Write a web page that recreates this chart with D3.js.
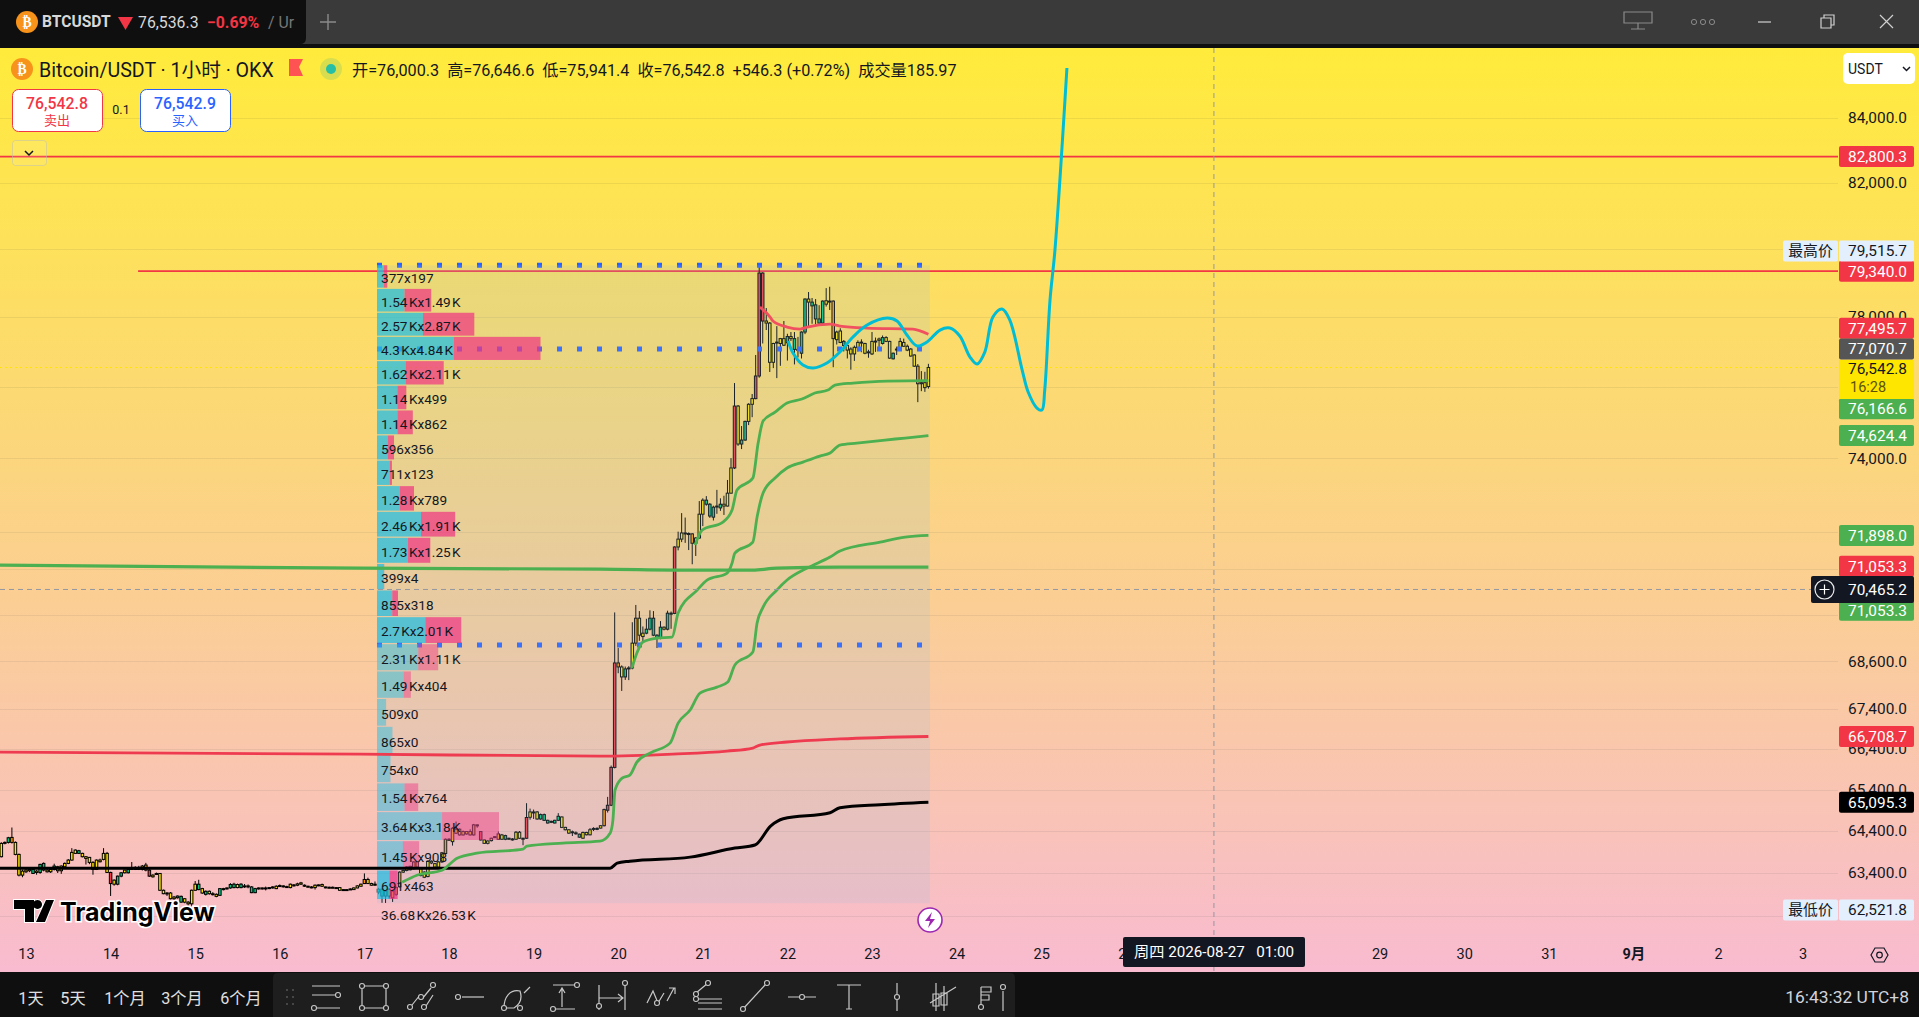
<!DOCTYPE html>
<html>
<head>
<meta charset="utf-8">
<script src="https://cdn.jsdelivr.net/npm/d3@7"></script>
<style>
  html, body { margin: 0; padding: 0; background: #0f0f0f; overflow: hidden; }
  text { font-family: Roboto, "Noto Sans CJK SC", sans-serif; }
</style>
</head>
<body>
<div id="chart"></div>
<script>
//BTCUSDT 1h chart, d3 v7

//candles, one per hour, first one is 2026-08-12 17:00. Bars are recoloured by an indicator
//so open and close can't be told apart, only the body edges are kept
var firstCandleHour = -7;
var bodyTop = [
  64103,64127,64238,64246,64127,63841,63445,63469,63484,63484,
  63445,63603,63627,63469,63484,63564,63548,63564,63627,63706,
  63889,63944,63929,63865,63786,63770,63651,63706,63706,63865,
  63865,63413,63231,63326,63405,63469,63484,63508,63532,63532,
  63564,63588,63469,63350,63389,63389,62993,62929,62929,62834,
  62858,62850,62795,62715,62993,63136,63136,63032,62969,62969,
  62913,62898,63032,63032,63048,63128,63136,63128,63136,63096,
  63096,63072,63032,63048,63048,63048,63056,63072,63088,63104,
  63096,63080,63136,63120,63144,63167,63112,63088,63072,63112,
  63120,63128,63072,63064,63064,63056,63056,63009,63009,63024,
  63048,63096,63136,63247,63247,63151,63136,63018,63018,62970,
  63018,62970,63058,63421,63461,63541,63558,63662,63662,63501,
  63421,63678,63678,63622,63662,63880,64202,64202,64467,64443,
  64443,64387,64387,64387,64548,64548,64387,64186,64161,64226,
  64266,64330,64306,64290,64226,64210,64371,64371,64226,64725,
  64859,64859,64859,64795,64795,64657,64632,64657,64754,64738,
  64487,64430,64381,64357,64325,64365,64365,64430,64462,64462,
  64527,64916,65021,65945,68562,68562,68460,68410,68435,69070,
  69715,69715,69327,69430,69715,69715,69275,69482,69482,69845,
  69845,71590,71800,71965,71965,71950,71940,71830,72470,72850,
  72850,72740,72660,72690,72740,72740,73040,73730,75450,75450,
  74500,75020,75500,75660,76300,79284,79284,77879,77820,77230,
  77270,77370,77370,77430,77430,77370,77060,77560,78520,78520,
  78430,78350,77940,78460,78470,78460,78460,77560,77590,77290,
  77170,77070,77120,77260,77270,77230,76990,77290,77300,77360,
  77400,77400,77290,76950,77070,77290,77260,77150,77070,76900,
  76580,76110,76110,76542.8
];
var bodyBottom = [
  63786,64103,64127,64127,63841,63350,63350,63429,63453,63389,
  63413,63413,63469,63429,63429,63484,63453,63453,63548,63627,
  63706,63865,63865,63786,63746,63651,63484,63484,63667,63722,
  63413,63151,63136,63136,63326,63405,63405,63484,63484,63484,
  63484,63469,63326,63310,63373,62993,62913,62913,62795,62795,
  62818,62715,62715,62676,62676,62993,63009,62929,62898,62913,
  62898,62850,62874,63009,63032,63048,63056,63056,63056,63072,
  63072,62937,62937,63024,63024,63032,63040,63048,63032,63088,
  63080,63064,63056,63104,63112,63136,63088,63072,63056,63056,
  63104,63088,63056,63056,63056,63048,62993,63001,63001,63016,
  63009,63048,63088,63151,63151,63112,63120,62950,62857,62857,
  62857,62817,62897,63075,63421,63461,63477,63501,63541,63340,
  63300,63316,63638,63541,63541,63662,63863,64186,64145,64346,
  64306,64306,64330,64306,64306,64524,64186,64105,64105,64169,
  64242,64202,64202,64202,64202,64186,64202,64226,64210,64226,
  64730,64835,64689,64689,64657,64592,64608,64592,64657,64487,
  64430,64349,64365,64341,64252,64228,64309,64309,64446,64446,
  64470,64527,64900,65022,65945,68460,68206,68206,68410,68435,
  69070,69275,69240,69327,69430,69275,69198,69198,69430,69430,
  69819,69840,71590,71800,71940,71930,71690,71690,71830,72470,
  72740,72420,72390,72670,72640,72690,72690,73040,73730,74390,
  74390,74500,75020,75500,75660,76300,77879,77820,76690,76690,
  77250,77230,77180,77250,77370,77060,77045,76950,77560,78430,
  78320,77940,77820,77820,78370,78440,77370,77340,77260,77170,
  77040,76930,76930,77110,77250,76950,76970,76930,77280,77320,
  77230,77290,76810,76790,77050,77070,77150,77040,76870,76580,
  76080,76080,75970,76000.3
];
var highs = [
  64130,64150,64260,64484,64150,63860,63480,63500,63530,63530,
  63470,63620,63650,63500,63520,63620,63570,63580,63650,63730,
  63990,63960,63950,63880,63800,63780,63680,63720,63740,63990,
  63900,63430,63250,63340,63420,63480,63500,63660,63560,63570,
  63590,63640,63490,63370,63410,63400,63010,62950,62950,62860,
  62870,62870,62810,62740,63010,63210,63240,63050,62990,62990,
  62950,62920,63040,63050,63060,63160,63170,63150,63160,63140,
  63130,63090,63050,63060,63060,63080,63070,63090,63110,63130,
  63110,63100,63150,63140,63170,63190,63130,63100,63090,63130,
  63130,63150,63080,63080,63080,63070,63070,63020,63020,63040,
  63060,63110,63150,63390,63290,63170,63200,63050,63040,62990,
  63040,62990,63080,63440,63480,63560,63570,63680,63680,63520,
  63440,63700,63700,63640,63680,63900,64220,64230,64490,64628,
  64460,64410,64400,64440,64570,64560,64400,64200,64175,64240,
  64280,64390,64330,64310,64240,64230,64400,64400,64240,65071,
  64940,64916,64880,64820,64820,64670,64650,64670,64830,64750,
  64500,64445,64410,64390,64335,64385,64380,64470,64490,64490,
  64540,64940,65224,65990,69865,68944,68500,68470,68480,69610,
  70060,69900,69500,69700,69920,69900,69300,69640,69500,69910,
  69890,71610,72000,72500,72380,71980,71960,71850,72825,72900,
  72960,72770,72700,73130,72900,72970,73400,74000,76100,75480,
  74890,75040,75530,75790,76900,79515,79310,78257,77850,77250,
  77730,77390,77880,77510,77560,77560,77420,77580,78540,78725,
  78550,78520,78340,78480,78840,78880,78480,77600,77670,77330,
  77180,77120,77170,77320,77350,77250,77050,77560,77400,77400,
  77460,77440,77310,76970,77140,77390,77370,77200,77100,76920,
  76640,76440,76420,76646.6
];
var lows = [
  63770,64080,64100,64100,63820,63320,63300,63400,63420,63380,
  63360,63380,63440,63410,63400,63460,63400,63380,63520,63610,
  63690,63850,63850,63770,63600,63610,63360,63470,63650,63700,
  63400,62860,63100,63110,63300,63390,63390,63470,63470,63470,
  63460,63440,63310,63290,63360,62980,62900,62860,62780,62770,
  62800,62700,62690,62640,62620,62980,62995,62910,62870,62890,
  62870,62830,62860,62990,63010,63030,63040,63040,63040,63050,
  63040,62925,62925,63010,63010,62990,63020,63030,63020,63070,
  63060,63050,63040,63080,63090,63120,63070,63060,63040,63010,
  63090,63070,63040,63040,63040,63030,62980,62990,62990,63000,
  63000,63040,63080,63140,63140,63100,63100,62900,62700,62696,
  62800,62720,62860,63060,63400,63440,63460,63480,63520,63320,
  63280,63300,63610,63520,63510,63640,63850,64170,64050,64330,
  64290,64290,64310,64290,64290,64480,64170,64090,64080,64150,
  64230,64190,64190,64180,64190,64170,64190,64210,64060,64210,
  64673,64690,64670,64670,64640,64580,64590,64580,64640,64470,
  64415,64330,64280,64310,64240,64210,64295,64295,64400,64420,
  64460,64510,64845,65000,65920,68300,67850,68130,68125,68400,
  69000,69130,69100,69300,69400,69250,68944,69170,69400,69400,
  69440,69820,71500,71720,71700,71508,71130,71350,71820,72150,
  72700,72370,72300,72480,72560,72450,72680,73030,73700,74340,
  74250,74480,74917,75138,75640,76250,77230,77618,76414,76525,
  76240,76590,77160,76740,77300,76630,76830,76800,77500,77730,
  77800,77780,77800,77800,78300,78200,76550,77200,77240,77000,
  76800,76480,76730,77000,76980,76920,76820,76900,76990,77030,
  77200,77270,76790,76770,76900,77050,77130,77010,76850,76560,
  75560,75870,75850,75941.4
];
var tones = ("yygoyyyyyg"+"yggyygyyyy"+"yygyyyyyyy"+"yryggygyyg"+"yoryyyyyyy"+"ggyyyygygy"
  +"yygyyggygy"+"yggyyygyyy"+"yyyyyyyyyy"+"yyyyyyyyyy"+"yyyoyyyggg"+"yyooyyyooy"
  +"yyyyyyoyyy"+"yyyyoyryyy"+"yyygyyyyyr"+"yyygggyggy"+"yyyygyyyyy"+"yorrroygyy"
  +"oyygggggyg"+"yryyyyoyyy"+"gggygyyyry"+"ggyyrrryyy"+"yyygygyggy"+"ggggygoyyg"
  +"yyyyyyyyyy"+"gyygyyyyyy"+"oyyy").split("");

//volume profile rows, top row first
var vpBuy = [377,1540,2570,4300,1620,1140,1140,596,711,1280,2460,1730,399,855,2700,2310,1490,509,865,754,1540,3640,1450,691];
var vpSell = [197,1490,2870,4840,2110,499,862,356,123,789,1910,1250,4,318,2010,1110,404,0,0,0,764,3180,908,463];
var vpHigh = 79515.7, vpLow = 62760, vpPoc = 77070.7, vpVal = 69020, vpStartHour = 100, vpLastHour = 256;
var vpTotal = "36.68\u200AKx26.53\u200AK";

//overlay lines: hours since 2026-08-13 00:00 and price
var blackHours = [-8,165.7,167.7,171.3,188.4,201.1,206.8,211.3,214.8,228.1,230.9,242.3,256];
var blackPrices = [63515,63515,63633,63680,63776,63992,64065,64525,64695,64840,64960,65035,65095.3];
var redLowHours = [-8,94.8,162.8,183.5,198.9,206.2,208.2,215.9,230.9,256];
var redLowPrices = [66321,66272,66222,66272,66347,66422,66497,66572,66647,66708.7];
var greenFlatHours = [-8,94.8,162.8,191.2,206.2,213,230.9,256];
var greenFlatPrices = [71106,71027,71000,70974,70974,71027,71053,71053.3];
var redTopHours = [208.2,211.1,211.9,215.9,219.6,221.6,228.1,230.9,238.6,251.6,256];
var redTopPrices = [78286,77995,77879,77705,77647,77705,77792,77734,77676,77647,77495.7];
var greenAHours = [106.7,110.9,118,122.3,127.9,141,142.1,152.3,162.8,165.7,166.5,167.1,169.1,171.3,173.3,177,182.7,185,188.4,191.2,196,199.1,201.1,206.2,207.4,209.1,213,215.9,221.6,228.1,230.9,242.3,249.4,256];
var greenAPrices = [63183,63348,63466,63751,63870,63966,64037,64110,64157,64349,64663,65389,65683,65757,66075,66297,66544,67041,67369,67797,67948,68076,68509,68841,69589,70002,70449,70713,71030,71322,71481,71721,71854,71898];
var greenBHours = [171.9,173.3,175,179,183.3,185,190.4,193.2,198.9,200.3,201.1,206.2,207.4,209.1,212.5,215.9,220.4,225.2,228.1,230.9,235.7,243.7,249.4,256];
var greenBPrices = [68431,68815,69098,69200,69226,69848,70449,70713,70898,71162,71428,71721,72393,73043,73452,73727,73891,74057,74140,74362,74417,74501,74556,74624.4];
var greenCHours = [189.8,191.8,197.7,200.3,201.7,206.2,207.7,209.1,212.5,215.9,220.1,223.8,227.5,229.5,234.6,244.3,256];
var greenCPrices = [71641,72043,72258,72581,73125,73452,74417,75030,75282,75536,75648,75817,75902,76043,76100,76157,76166.6];
var cyanHours = [216.2,217.6,220.4,223.3,227.2,230.9,234.6,238.6,244.3,247.1,249.9,252.8,255.6,259.3,262.1,264.9,267.8,269.8,272,274.3,276.9,279.1,282.6,284.3,286.8,288.2,289,290.5,291.9,295.3];
var cyanPrices = [77300,76955,76612,76526,76669,76984,77416,77763,77966,77879,77474,77157,77272,77618,77676,77445,76841,76642,76984,77995,78228,77907,76470,75845,75394,75339,75902,78491,79967,85580];

//axes, the ticks in hiddenTicks sit under a tag in the picture so only their grid line shows
var priceTicks = [84000,82000,80000,78000,76000,74000,72000,71000,69800,68600,67400,66400,65400,64400,63400,62400];
var hiddenTicks = [80000,76000,72000,71000,69800,62400];
var dayTicks = [13,14,15,16,17,18,19,20,21,22,23,24,25,26,29,30,31,32,33,34];

//labels on the price axis, painted in this order
var labelValues = [82800.3,79340.0,77495.7,76166.6,74624.4,71898.0,71053.3,71053.3,66708.7,65095.3,77070.7];
var labelFills = ["#F23645","#F23645","#F23645","#4CAF50","#4CAF50","#4CAF50","#4CAF50","#F23645","#F23645","#000000","#555555"];
var labelShift = [0,0,-6,28,0,0,43,-1,0,0,0];

var width = 1919, height = 1017;
var chartTop = 48, chartBottom = 972, axisLeft = 1838;
var numFormat = d3.format(",.1f");
var axisFont = "15.4px";

var svg = d3.select("#chart").append("svg")
  .attr("width", width)
  .attr("height", height)
  .style("display", "block");

var defs = svg.append("defs");
var grad = defs.append("linearGradient").attr("id", "bg").attr("x1", 0).attr("x2", 0).attr("y1", 0).attr("y2", 1);
grad.append("stop").attr("offset", "0%").attr("stop-color", "#FFEB3B");
grad.append("stop").attr("offset", "100%").attr("stop-color", "#F8BBD0");
defs.append("clipPath").attr("id", "plot").append("rect")
  .attr("x", 0).attr("y", chartTop).attr("width", axisLeft).attr("height", chartBottom - chartTop);

svg.append("rect").attr("width", width).attr("height", height).attr("fill", "#0f0f0f");
svg.append("rect").attr("y", chartTop).attr("width", width).attr("height", chartBottom - chartTop).attr("fill", "url(#bg)");

//scales, price axis is logarithmic
var x = d3.scaleUtc()
  .domain([new Date(Date.UTC(2026, 7, 13)), new Date(Date.UTC(2026, 8, 3))])
  .range([26, 1802.6]);
var y = d3.scaleLog().domain([84000, 63400]).range([118, 873]);

function hourX(h) {
  return x(new Date(Date.UTC(2026, 7, 13) + h * 3600000));
}

//grid and price axis
var yAxis = d3.axisRight(y)
  .tickValues(priceTicks)
  .tickSize(0)
  .tickPadding(0)
  .tickFormat(function(d) { return hiddenTicks.indexOf(d) >= 0 ? "" : numFormat(d); });

var gy = svg.append("g").attr("transform", "translate(1907,0)").call(yAxis);
gy.select(".domain").remove();
gy.selectAll("text")
  .attr("text-anchor", "end")
  .attr("x", 0)
  .style("font-size", axisFont)
  .style("fill", "#131722");

svg.append("g").selectAll("line")
  .data(priceTicks)
  .enter()
  .append("line")
  .attr("x1", 0)
  .attr("x2", axisLeft)
  .attr("y1", function(d) { return Math.round(y(d)) + 0.5; })
  .attr("y2", function(d) { return Math.round(y(d)) + 0.5; })
  .attr("stroke", "rgba(42,46,57,0.08)");

//time axis
var xAxis = d3.axisBottom(x)
  .tickValues(dayTicks.map(function(d) { return new Date(Date.UTC(2026, 7, d)); }))
  .tickSize(0)
  .tickPadding(0)
  .tickFormat(function(d) {
    if (d.getUTCMonth() == 8) {
      return d.getUTCDate() == 1 ? "9月" : d.getUTCDate();
    }
    return d.getUTCDate();
  });

var gx = svg.append("g").attr("transform", "translate(0,949)").call(xAxis);
gx.select(".domain").remove();
gx.selectAll("text")
  .style("font-size", "14.5px")
  .style("fill", "#131722")
  .style("font-weight", function(d) {
    return (d.getUTCMonth() == 8 && d.getUTCDate() == 1) ? "700" : "400";
  });

//plot area
var plot = svg.append("g").attr("clip-path", "url(#plot)");

//horizontal levels
plot.append("line").attr("x1", 0).attr("x2", axisLeft).attr("y1", y(82800.3)).attr("y2", y(82800.3))
  .attr("stroke", "#F23645").attr("stroke-width", 1.8);
plot.append("line").attr("x1", hourX(31.8)).attr("x2", axisLeft).attr("y1", y(79340)).attr("y2", y(79340))
  .attr("stroke", "#F23645").attr("stroke-width", 1.8);
plot.append("line").attr("x1", 0).attr("x2", axisLeft).attr("y1", y(76542.8)).attr("y2", y(76542.8))
  .attr("stroke", "#FFE600").attr("stroke-width", 1).attr("stroke-dasharray", "2 3");

//candles
var toneColour = {y: "#FFE600", g: "#00C880", r: "#EF3B45", o: "#FF9800"};
var candles = plot.append("g").attr("class", "candles").selectAll("g")
  .data(bodyTop.map(function(d, i) { return i; }))
  .enter()
  .append("g");

candles.append("line")
  .attr("x1", function(i) { return hourX(firstCandleHour + i); })
  .attr("x2", function(i) { return hourX(firstCandleHour + i); })
  .attr("y1", function(i) { return y(highs[i]); })
  .attr("y2", function(i) { return y(lows[i]); })
  .attr("stroke", "#000")
  .attr("stroke-width", 1);

candles.append("rect")
  .attr("x", function(i) { return hourX(firstCandleHour + i) - 1.25; })
  .attr("width", 2.5)
  .attr("y", function(i) { return y(bodyTop[i]); })
  .attr("height", function(i) { return Math.max(1, y(bodyBottom[i]) - y(bodyTop[i])); })
  .attr("fill", function(i) { return toneColour[tones[i]]; })
  .attr("stroke", "#000")
  .attr("stroke-width", 1);

//value area lines
var vpLeft = hourX(vpStartHour) - 1.5;
var vpRight = hourX(vpLastHour) + 1.5;
[vpHigh, vpPoc, vpVal].forEach(function(p) {
  plot.append("line")
    .attr("x1", vpLeft)
    .attr("x2", vpRight)
    .attr("y1", y(p))
    .attr("y2", y(p))
    .attr("stroke", "#2962FF")
    .attr("stroke-width", 5)
    .attr("stroke-dasharray", "5 15");
});

//volume profile
var vpBin = (vpHigh - vpLow) / vpBuy.length;
var vpX = d3.scaleLinear().domain([0, 9140]).range([0, 163.5]);
var isValueArea = function(i) { return i <= 14 || i == vpBuy.length - 1; };

plot.append("rect")
  .attr("x", vpLeft)
  .attr("width", vpRight - vpLeft)
  .attr("y", y(vpHigh))
  .attr("height", y(vpLow) - y(vpHigh) + 3)
  .attr("fill", "rgba(150,190,220,0.18)");

var rows = plot.append("g").attr("class", "profile").selectAll("g")
  .data(vpBuy)
  .enter()
  .append("g");

rows.append("rect")
  .attr("x", vpLeft)
  .attr("width", function(d) { return vpX(d); })
  .attr("y", function(d, i) { return y(vpHigh - i * vpBin); })
  .attr("height", function(d, i) { return y(vpHigh - (i + 1) * vpBin) - y(vpHigh - i * vpBin) - 1.2; })
  .attr("fill", function(d, i) { return isValueArea(i) ? "rgba(25,190,230,0.7)" : "rgba(25,190,230,0.45)"; });

rows.append("rect")
  .attr("x", function(d) { return vpLeft + vpX(d); })
  .attr("width", function(d, i) { return vpX(vpSell[i]); })
  .attr("y", function(d, i) { return y(vpHigh - i * vpBin); })
  .attr("height", function(d, i) { return y(vpHigh - (i + 1) * vpBin) - y(vpHigh - i * vpBin) - 1.2; })
  .attr("fill", function(d, i) { return isValueArea(i) ? "rgba(240,50,130,0.7)" : "rgba(240,50,130,0.45)"; });

function vpFormat(v) {
  return v < 1000 ? String(v) : String(+(v / 1000).toFixed(2)) + "\u200AK";
}

rows.append("text")
  .attr("x", vpLeft + 4)
  .attr("y", function(d, i) { return y(vpHigh - (i + 0.5) * vpBin) + 1; })
  .attr("dy", "0.35em")
  .style("font-size", "13.6px")
  .style("fill", "#131722")
  .text(function(d, i) { return vpFormat(d) + "x" + vpFormat(vpSell[i]); });

plot.append("text")
  .attr("x", vpLeft + 4)
  .attr("y", 915)
  .attr("dy", "0.35em")
  .style("font-size", "13.6px")
  .style("fill", "#131722")
  .text(vpTotal);

//overlay lines
var line = d3.line()
  .x(function(d) { return hourX(d[0]); })
  .y(function(d) { return y(d[1]); })
  .curve(d3.curveMonotoneX);

function drawLine(hours, prices, colour, w) {
  plot.append("path")
    .datum(hours.map(function(h, i) { return [h, prices[i]]; }))
    .attr("d", line)
    .attr("fill", "none")
    .attr("stroke", colour)
    .attr("stroke-width", w)
    .attr("stroke-linejoin", "round");
}

drawLine(blackHours, blackPrices, "#000", 3);
drawLine(redLowHours, redLowPrices, "#EF3B50", 2.8);
drawLine(greenFlatHours, greenFlatPrices, "#4CAF50", 3.2);
drawLine(redTopHours, redTopPrices, "#F0505F", 2.8);
drawLine(greenAHours, greenAPrices, "#4CAF50", 2.8);
drawLine(greenBHours, greenBPrices, "#4CAF50", 2.8);
drawLine(greenCHours, greenCPrices, "#4CAF50", 2.8);

plot.append("path")
  .datum(cyanHours.map(function(h, i) { return [h, cyanPrices[i]]; }))
  .attr("d", d3.line()
    .x(function(d) { return hourX(d[0]); })
    .y(function(d) { return y(d[1]); })
    .curve(d3.curveCatmullRom))
  .attr("fill", "none")
  .attr("stroke", "#00BCD4")
  .attr("stroke-width", 3);

//crosshair
plot.append("line").attr("x1", 0).attr("x2", 1811).attr("y1", y(70465.2)).attr("y2", y(70465.2))
  .attr("stroke", "#9598A1").attr("stroke-dasharray", "5 4");
plot.append("line").attr("x1", hourX(337)).attr("x2", hourX(337)).attr("y1", chartTop).attr("y2", chartBottom)
  .attr("stroke", "#9598A1").attr("stroke-dasharray", "5 4");

//tradingview logo
var logo = svg.append("g");
logo.append("path")
  .attr("d", "M14 900H34V922H25V909H14ZM42 904.5A4.5 4.5 0 1 1 42 904.4ZM46 900H54L45 922H36Z")
  .attr("fill", "#000")
  .attr("stroke", "#fff")
  .attr("stroke-width", 2)
  .style("paint-order", "stroke");
logo.append("text")
  .attr("x", 60)
  .attr("y", 921)
  .text("TradingView")
  .style("font-family", "Inter")
  .style("font-size", "25px")
  .style("font-weight", "700")
  .style("fill", "#000")
  .style("stroke", "#fff")
  .style("stroke-width", 3)
  .style("paint-order", "stroke");

//bolt mark at the end of the session
svg.append("circle").attr("cx", 930).attr("cy", 920).attr("r", 12)
  .attr("fill", "#fff").attr("stroke", "#9C27B0").attr("stroke-width", 1.6);
svg.append("path").attr("d", "M932 912L925 921H930L928 928L935 919H930Z").attr("fill", "#9C27B0");

//axis labels
function priceLabel(p, fill, shift, colour) {
  var cy = y(p) + shift;
  svg.append("rect")
    .attr("x", 1839).attr("y", cy - 10.5).attr("width", 75).attr("height", 21).attr("rx", 2)
    .attr("fill", fill);
  svg.append("text")
    .attr("x", 1907).attr("y", cy).attr("dy", "0.35em").attr("text-anchor", "end")
    .style("font-size", axisFont).style("fill", colour).text(numFormat(p));
}

labelValues.forEach(function(p, i) {
  priceLabel(p, labelFills[i], labelShift[i], "#fff");
});

//max and min tags
[[79515.7, 251, "最高价"], [62521.8, 910, "最低价"]].forEach(function(t) {
  svg.append("rect").attr("x", 1783).attr("y", t[1] - 10.5).attr("width", 55).attr("height", 21).attr("rx", 2).attr("fill", "#E3EFFD");
  svg.append("text").attr("x", 1810.5).attr("y", t[1]).attr("dy", "0.35em").attr("text-anchor", "middle")
    .style("font-size", "14.8px").style("fill", "#131722").text(t[2]);
  svg.append("rect").attr("x", 1839).attr("y", t[1] - 10.5).attr("width", 75).attr("height", 21).attr("rx", 2).attr("fill", "#E3EFFD");
  svg.append("text").attr("x", 1907).attr("y", t[1]).attr("dy", "0.35em").attr("text-anchor", "end")
    .style("font-size", axisFont).style("fill", "#131722").text(numFormat(t[0]));
});

//last price tag with countdown
svg.append("rect").attr("x", 1839).attr("y", 360).attr("width", 75).attr("height", 39).attr("fill", "#FFE600");
svg.append("text").attr("x", 1907).attr("y", 369).attr("dy", "0.35em").attr("text-anchor", "end")
  .style("font-size", axisFont).style("fill", "#131722").text("76,542.8");
svg.append("text").attr("x", 1850).attr("y", 387).attr("dy", "0.35em")
  .style("font-size", "14.5px").style("fill", "#5c5200").text("16:28");

//crosshair tag
svg.append("rect").attr("x", 1811).attr("y", 576).attr("width", 103).attr("height", 27).attr("rx", 2).attr("fill", "#131722");
svg.append("circle").attr("cx", 1824.5).attr("cy", 589.5).attr("r", 9.5).attr("fill", "none").attr("stroke", "#e8e8e8").attr("stroke-width", 1.2);
svg.append("path").attr("d", "M1819.5 589.5H1829.5M1824.5 584.5V594.5").attr("stroke", "#fff").attr("stroke-width", 1.2);
svg.append("text").attr("x", 1907).attr("y", 589.5).attr("dy", "0.35em").attr("text-anchor", "end")
  .style("font-size", axisFont).style("fill", "#fff").text(numFormat(70465.2));

//time tag
svg.append("rect").attr("x", 1123).attr("y", 937).attr("width", 182).attr("height", 30).attr("rx", 2).attr("fill", "#131722");
svg.append("text").attr("x", 1214).attr("y", 952).attr("dy", "0.35em").attr("text-anchor", "middle")
  .style("font-size", "15.2px").style("fill", "#fff").attr("xml:space", "preserve").text("周四 2026-08-27   01:00");

//settings hexagon
svg.append("path").attr("d", "M1871 955l4-7h9l4 7-4 7h-9z")
  .attr("fill", "none").attr("stroke", "#131722").attr("stroke-width", 1.2);
svg.append("circle").attr("cx", 1879.5).attr("cy", 955).attr("r", 2.8).attr("fill", "none").attr("stroke", "#131722").attr("stroke-width", 1.2);

//currency box
svg.append("rect").attr("x", 1843).attr("y", 53).attr("width", 72).attr("height", 31).attr("rx", 5).attr("fill", "#fff");
svg.append("text").attr("x", 1848).attr("y", 69).attr("dy", "0.35em").style("font-size", "14px").style("fill", "#131722").text("USDT");
svg.append("path").attr("d", "M1903 67l3.5 3.5 3.5-3.5").attr("fill", "none").attr("stroke", "#131722").attr("stroke-width", 1.5);

//legend line
function coin(cx, cy, r) {
  svg.append("circle").attr("cx", cx).attr("cy", cy).attr("r", r).attr("fill", "#F7931A");
  svg.append("text").attr("x", cx).attr("y", cy).attr("dy", "0.36em").attr("text-anchor", "middle")
    .style("font-family", "DejaVu Sans").style("font-size", r * 1.25 + "px").style("font-weight", "700").style("fill", "#fff").text("₿");
}
coin(22, 69, 11);
svg.append("text").attr("x", 39).attr("y", 70).attr("dy", "0.35em").style("font-size", "19.6px").style("fill", "#131722")
  .text("Bitcoin/USDT · 1小时 · OKX");
svg.append("path").attr("d", "M289 59H303L299 67L303 76H289Z").attr("fill", "#FF5252");
svg.append("circle").attr("cx", 331).attr("cy", 69).attr("r", 11).attr("fill", "rgba(38,166,154,0.18)");
svg.append("circle").attr("cx", 331).attr("cy", 69).attr("r", 5).attr("fill", "#26BFA6");
svg.append("text").attr("x", 352).attr("y", 70).attr("dy", "0.35em").style("font-size", "16.2px").style("fill", "#131722")
  .text("开=76,000.3  高=76,646.6  低=75,941.4  收=76,542.8  +546.3 (+0.72%)  成交量185.97")
  .attr("xml:space", "preserve");

//sell and buy boxes
[[12, "#F23645", "76,542.8", "卖出"], [140, "#2962FF", "76,542.9", "买入"]].forEach(function(b) {
  svg.append("rect").attr("x", b[0] + 0.5).attr("y", 89.5).attr("width", 90).attr("height", 42).attr("rx", 6)
    .attr("fill", "#fff").attr("stroke", b[1]);
  svg.append("text").attr("x", b[0] + 45).attr("y", 103).attr("dy", "0.35em").attr("text-anchor", "middle")
    .style("font-size", "15.8px").style("font-weight", "500").style("fill", b[1]).text(b[2]);
  svg.append("text").attr("x", b[0] + 45).attr("y", 120).attr("dy", "0.35em").attr("text-anchor", "middle")
    .style("font-size", "13px").style("fill", b[1]).text(b[3]);
});
svg.append("text").attr("x", 121).attr("y", 110).attr("dy", "0.35em").attr("text-anchor", "middle")
  .style("font-size", "12.5px").style("fill", "#131722").text("0.1");
svg.append("rect").attr("x", 12.5).attr("y", 140.5).attr("width", 34).attr("height", 25).attr("rx", 3)
  .attr("fill", "rgba(255,255,255,0.1)").attr("stroke", "rgba(190,190,190,0.5)");
svg.append("path").attr("d", "M25 151l4 4 4-4").attr("fill", "none").attr("stroke", "#131722").attr("stroke-width", 1.5);

//top bar
svg.append("rect").attr("width", width).attr("height", 44).attr("fill", "#3a3a3a");
svg.append("rect").attr("y", 44).attr("width", width).attr("height", 4).attr("fill", "#0f0f0f");
svg.append("path").attr("d", "M0 0H306V38Q306 44 300 44H0Z").attr("fill", "#0f0f0f");
coin(27, 22, 11);
svg.append("text").attr("x", 42).attr("y", 22).attr("dy", "0.35em").style("font-size", "15.6px").style("font-weight", "700").style("fill", "#d8d8d8").text("BTCUSDT");
svg.append("path").attr("d", "M118 17H133L125.5 30Z").attr("fill", "#F23645");
svg.append("text").attr("x", 138).attr("y", 22).attr("dy", "0.35em").style("font-size", "15.8px").style("fill", "#d8d8d8").text("76,536.3");
svg.append("text").attr("x", 207).attr("y", 22).attr("dy", "0.35em").style("font-size", "15.8px").style("font-weight", "700").style("fill", "#F23645").text("−0.69%");
svg.append("text").attr("x", 268).attr("y", 22).attr("dy", "0.35em").style("font-size", "15.8px").style("fill", "#777").text("/ Ur");
svg.append("path").attr("d", "M320 22H336M328 14V30").attr("stroke", "#8a8a8a").attr("stroke-width", 1.4);

//window buttons
svg.append("path").attr("d", "M1624 12H1652V23H1624ZM1638 23V29M1631 29H1645").attr("fill", "none").attr("stroke", "#8a8a8a").attr("stroke-width", 1.2);
[1694, 1703, 1712].forEach(function(cx) {
  svg.append("circle").attr("cx", cx).attr("cy", 22).attr("r", 2.6).attr("fill", "none").attr("stroke", "#8a8a8a");
});
svg.append("path").attr("d", "M1758 22H1771").attr("stroke", "#d0d0d0").attr("stroke-width", 1.2);
svg.append("path").attr("d", "M1821 18H1831V28H1821ZM1824 18V15H1834V25H1831").attr("fill", "none").attr("stroke", "#d0d0d0").attr("stroke-width", 1.2);
svg.append("path").attr("d", "M1880 15L1893 28M1893 15L1880 28").attr("stroke", "#d0d0d0").attr("stroke-width", 1.2);

//bottom bar
var ranges = ["1天", "5天", "1个月", "3个月", "6个月"];
var rangeX = [31, 73, 125, 182, 241];
ranges.forEach(function(r, i) {
  svg.append("text").attr("x", rangeX[i]).attr("y", 998).attr("dy", "0.35em").attr("text-anchor", "middle")
    .style("font-size", "16.2px").style("fill", "#e0e0e0").text(r);
});
svg.append("text").attr("x", 1909).attr("y", 997).attr("dy", "0.35em").attr("text-anchor", "end")
  .style("font-size", "17.4px").style("fill", "#d1d4dc").text("16:43:32 UTC+8");

svg.append("path").attr("d", "M273 1017V978Q273 973 278 973H1010Q1015 973 1015 978V1017Z").attr("fill", "#1e1e1e");
[[287, 990], [293, 990], [287, 997], [293, 997], [287, 1004], [293, 1004]].forEach(function(p) {
  svg.append("circle").attr("cx", p[0]).attr("cy", p[1]).attr("r", 1).attr("fill", "#555");
});

//drawing tools, each is a path and its handles around the icon centre
var toolX = [326,374,422,470,516,565,612,661,708,755,802,849,897,944,991];
var toolPaths = [
  "M-14-11H14M-14-2H9M-9 11H14M-14 2",
  "M-9-11H9M-12-8V8M12-8V8M-9 11H9",
  "M9-9L0 2M-2-2L-10 8M11-2L4 9",
  "M-8 0H14",
  "M-12 11C-12 0-6-8 4-6C6 0 6 6-2 11ZM8-4L14-10",
  "M-12-12H10M-12 12H10M-3 10V-8M-6-4L-3-9L0-4",
  "M-13-12V13M13-12V13M-13 1H10M6-3L11 1L6 5",
  "M-14 6L-8-6L-3 6L3-4M6 4L13-9M8-9H14V-3",
  "M-12-4L0-14M-10 2H14M-10 6H14M-10 12H14",
  "M-12 12L10-12",
  "M-14 0H-3M3 0H14",
  "M-12-12H12M0-12V12M-3 12H3",
  "M0-14V-3M0 3V14",
  "M-8-14V14M0-11V14M-11-3H-5V9H-11ZM-3-4H3V8H-3ZM-14 6L12-10",
  "M-10-10V12M-10-10H0V-5H-10M-10-2H-2V3H-10M12-6V14"
];
var toolDots = [
  [[12,-2],[-12,11]],
  [[-12,-11],[12,-11],[-12,11],[12,11]],
  [[11,-12],[-1,0],[-12,10],[2,10]],
  [[-12,0]],
  [[-12,11],[4,11]],
  [[12,-12],[-12,12]],
  [[-13,9],[13,-14]],
  [[-4,6]],
  [[0,-14],[-12,-3],[-12,2]],
  [[-12,12],[12,-14]],
  [[0,0]],
  [],
  [[0,0]],
  [],
  [[-10,10],[12,-10]]
];
toolX.forEach(function(cx, i) {
  var g = svg.append("g").attr("transform", "translate(" + cx + ",997)");
  g.append("path").attr("d", toolPaths[i]).attr("fill", "none").attr("stroke", "#c8c8c8").attr("stroke-width", 1.2);
  toolDots[i].forEach(function(p) {
    g.append("circle").attr("cx", p[0]).attr("cy", p[1]).attr("r", 2.5).attr("fill", "#1e1e1e").attr("stroke", "#c8c8c8").attr("stroke-width", 1.1);
  });
});
</script>
</body>
</html>
